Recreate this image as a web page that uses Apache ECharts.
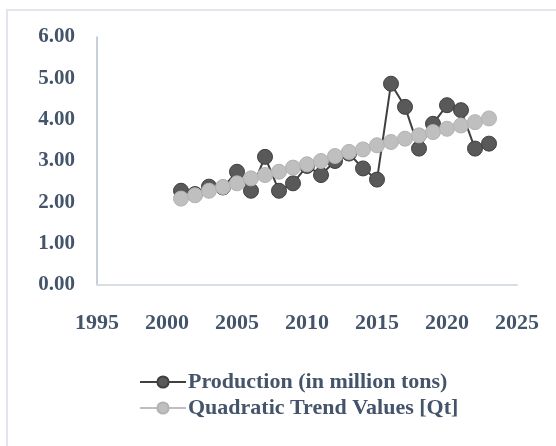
<!DOCTYPE html>
<html>
<head>
<meta charset="utf-8">
<script src="https://cdn.jsdelivr.net/npm/echarts@6/dist/echarts.min.js"></script>
<style>
  html, body { margin: 0; padding: 0; background: #fff; }
  #chart { width: 556px; height: 446px; }
</style>
</head>
<body>
<div id="chart"></div>
<script>
// values
var years = [2001, 2002, 2003, 2004, 2005, 2006, 2007, 2008, 2009, 2010, 2011, 2012,
             2013, 2014, 2015, 2016, 2017, 2018, 2019, 2020, 2021, 2022, 2023];
var production = [2.28, 2.20, 2.38, 2.36, 2.74, 2.28, 3.10, 2.28, 2.46, 2.88, 2.66, 3.00,
                  3.18, 2.82, 2.55, 4.87, 4.31, 3.30, 3.90, 4.35, 4.23, 3.30, 3.42];
var trend = [2.09, 2.17, 2.28, 2.37, 2.46, 2.58, 2.66, 2.74, 2.84, 2.92, 3.00, 3.12,
             3.22, 3.28, 3.38, 3.46, 3.54, 3.62, 3.70, 3.78, 3.86, 3.94, 4.03];
var seriesNames = ['Production (in million tons)', 'Quadratic Trend Values [Qt]'];

var textColor = '#44546a';
var font = 'Liberation Serif';

function pairs(ys) {
    return years.map(function (y, i) { return [y, ys[i]]; });
}

var myChart = echarts.init(document.getElementById('chart'), null, { renderer: 'canvas' });
myChart.setOption({
    animation: false,
    backgroundColor: '#fff',
    graphic: [{
        // chart area border (left and top only visible)
        type: 'rect',
        shape: { x: 7, y: 10, width: 600, height: 500 },
        style: { fill: 'none', stroke: '#e2e6ec', lineWidth: 2 },
        silent: true
    }],
    grid: { left: 97, right: 39, top: 37, bottom: 161 },
    xAxis: {
        type: 'value',
        min: 1995,
        max: 2025,
        interval: 5,
        splitLine: { show: false },
        axisTick: { show: false },
        axisLine: { lineStyle: { color: '#d9dde4', width: 2 } },
        axisLabel: {
            color: textColor,
            fontFamily: font,
            fontWeight: 'bold',
            fontSize: 22,
            margin: 27,
            formatter: function (v) { return String(v); }
        }
    },
    yAxis: {
        type: 'value',
        min: 0,
        max: 6,
        interval: 1,
        splitLine: { show: false },
        axisTick: { show: false },
        axisLine: { show: true, lineStyle: { color: '#b4bfcd', width: 1.5 } },
        axisLabel: {
            color: textColor,
            fontFamily: font,
            fontWeight: 'bold',
            fontSize: 21,
            margin: 22,
            formatter: function (v) { return v.toFixed(2); }
        }
    },
    legend: {
        orient: 'vertical',
        left: 134,
        top: 366,
        itemWidth: 46,
        itemHeight: 14,
        itemGap: 4,
        textStyle: {
            color: textColor,
            fontFamily: font,
            fontWeight: 'bold',
            fontSize: 22,
            padding: [0, 0, 0, -3]
        },
        data: seriesNames
    },
    series: [{
        name: seriesNames[0],
        type: 'line',
        data: pairs(production),
        symbol: 'circle',
        symbolSize: 15,
        itemStyle: { color: '#595959', borderColor: '#404040', borderWidth: 1 },
        lineStyle: { color: '#404040', width: 2 },
        z: 2
    }, {
        name: seriesNames[1],
        type: 'line',
        data: pairs(trend),
        symbol: 'circle',
        symbolSize: 15,
        itemStyle: { color: '#bfbfbf', borderColor: '#b3b3b3', borderWidth: 1 },
        lineStyle: { color: '#bfbfbf', width: 2 },
        z: 3
    }]
});
</script>
</body>
</html>
